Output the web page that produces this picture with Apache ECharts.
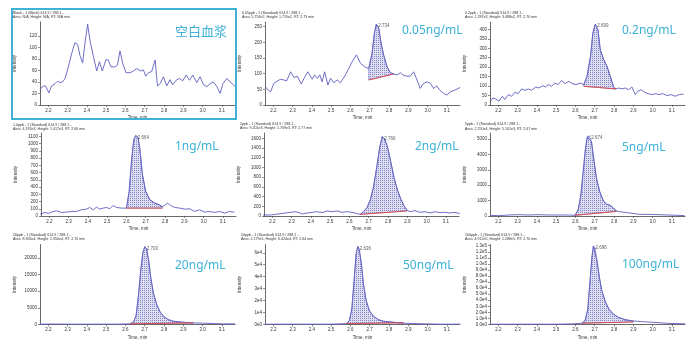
<!DOCTYPE html>
<html>
<head>
<meta charset="utf-8">
<script src="https://cdn.jsdelivr.net/npm/echarts@6/dist/echarts.min.js"></script>
<style>
  html, body { margin: 0; padding: 0; background: #fff; }
  #chart { width: 691px; height: 341px; }
</style>
</head>
<body>
<div id="chart"></div>
<script>
// chromatogram traces, [time (min), intensity]
const blank = [[2.157,27],[2.174,33],[2.186,33],[2.203,21],[2.217,33],[2.235,37],[2.247,41],[2.261,39],[2.274,40],[2.287,46],[2.304,66],[2.321,89],[2.338,108],[2.352,105],[2.364,86],[2.378,73],[2.390,107],[2.404,140],[2.416,112],[2.434,84],[2.451,59],[2.465,75],[2.480,59],[2.499,79],[2.511,78],[2.525,66],[2.546,66],[2.558,69],[2.572,94],[2.586,72],[2.603,56],[2.624,56],[2.641,59],[2.658,63],[2.679,59],[2.693,61],[2.705,50],[2.719,56],[2.736,58],[2.754,78],[2.766,33],[2.780,37],[2.797,49],[2.814,33],[2.831,44],[2.845,35],[2.863,43],[2.880,46],[2.897,42],[2.915,52],[2.932,43],[2.949,52],[2.970,39],[2.987,49],[3.005,35],[3.022,32],[3.039,37],[3.056,40],[3.074,32],[3.091,20],[3.105,37],[3.126,46],[3.143,40],[3.169,32]];
const s005 = [[2.160,58],[2.172,48],[2.186,42],[2.203,69],[2.221,77],[2.238,82],[2.255,80],[2.269,77],[2.290,106],[2.307,88],[2.324,92],[2.345,67],[2.362,88],[2.379,106],[2.402,82],[2.414,96],[2.428,85],[2.441,96],[2.453,74],[2.466,106],[2.483,64],[2.497,85],[2.514,71],[2.531,80],[2.548,71],[2.574,96],[2.609,138],[2.631,160],[2.652,133],[2.678,120],[2.695,117],[2.712,165],[2.724,229],[2.734,258],[2.747,245],[2.759,197],[2.772,160],[2.790,122],[2.807,103],[2.824,99],[2.841,96],[2.859,103],[2.872,96],[2.893,92],[2.910,92],[2.928,106],[2.945,80],[2.962,53],[2.979,69],[2.997,74],[3.014,69],[3.031,53],[3.048,61],[3.062,48],[3.083,37],[3.100,32],[3.117,42],[3.143,48],[3.169,56]];
const s02 = [[2.160,20],[2.172,38],[2.186,32],[2.203,20],[2.221,46],[2.234,29],[2.252,55],[2.269,46],[2.286,67],[2.303,60],[2.321,85],[2.338,78],[2.355,85],[2.372,78],[2.393,95],[2.410,90],[2.431,102],[2.445,95],[2.459,108],[2.476,99],[2.493,116],[2.510,108],[2.528,130],[2.545,113],[2.566,125],[2.583,113],[2.603,108],[2.626,116],[2.643,108],[2.660,151],[2.678,256],[2.690,379],[2.703,428],[2.717,396],[2.729,291],[2.747,239],[2.764,204],[2.781,151],[2.798,95],[2.810,85],[2.824,90],[2.841,85],[2.859,90],[2.876,81],[2.893,95],[2.910,55],[2.924,73],[2.941,81],[2.959,67],[2.976,60],[2.997,55],[3.014,60],[3.034,55],[3.052,60],[3.074,50],[3.097,55],[3.117,46],[3.138,55],[3.160,58]];
const s1 = [[2.152,26],[2.178,49],[2.195,35],[2.212,54],[2.238,72],[2.264,49],[2.290,54],[2.316,63],[2.341,63],[2.367,86],[2.393,95],[2.410,118],[2.428,86],[2.445,123],[2.462,95],[2.479,109],[2.497,118],[2.514,100],[2.531,146],[2.548,118],[2.574,109],[2.600,109],[2.614,340],[2.626,754],[2.638,1054],[2.648,1114],[2.660,1086],[2.669,939],[2.683,570],[2.700,340],[2.721,224],[2.747,178],[2.769,155],[2.786,132],[2.798,146],[2.812,178],[2.828,146],[2.850,118],[2.876,109],[2.902,95],[2.928,100],[2.953,63],[2.979,86],[3.005,54],[3.031,63],[3.057,49],[3.083,63],[3.109,40],[3.134,63],[3.160,54]];
const s2 = [[2.150,21],[2.191,21],[2.217,34],[2.243,48],[2.269,62],[2.295,76],[2.320,89],[2.338,69],[2.355,41],[2.381,62],[2.407,76],[2.432,89],[2.458,69],[2.484,103],[2.510,89],[2.536,103],[2.561,76],[2.587,89],[2.613,76],[2.635,55],[2.656,34],[2.673,89],[2.691,172],[2.708,330],[2.725,604],[2.742,1016],[2.756,1394],[2.770,1635],[2.782,1587],[2.797,1429],[2.814,1120],[2.832,776],[2.849,536],[2.866,350],[2.883,213],[2.897,124],[2.914,89],[2.940,110],[2.966,76],[2.992,89],[3.018,62],[3.043,89],[3.069,69],[3.095,76],[3.121,62],[3.147,76],[3.172,48]];
const s5 = [[2.157,43],[2.200,22],[2.252,65],[2.303,87],[2.355,65],[2.407,87],[2.459,65],[2.510,65],[2.562,65],[2.597,43],[2.614,390],[2.628,1364],[2.640,2879],[2.652,4394],[2.662,5152],[2.672,5216],[2.683,4827],[2.697,3528],[2.709,2446],[2.726,1580],[2.743,1039],[2.760,758],[2.778,714],[2.795,541],[2.812,325],[2.829,281],[2.855,238],[2.881,195],[2.907,152],[2.933,108],[2.976,108],[3.028,87],[3.079,65],[3.131,43],[3.166,22]];
const s20 = [[2.157,100],[2.226,150],[2.295,100],[2.382,100],[2.468,100],[2.555,100],[2.624,200],[2.641,680],[2.655,2600],[2.667,8400],[2.679,16100],[2.690,21450],[2.700,23400],[2.710,22700],[2.721,19000],[2.731,14200],[2.745,9400],[2.762,6000],[2.780,3770],[2.800,2320],[2.823,1450],[2.849,970],[2.883,770],[2.918,580],[2.953,480],[3.005,390],[3.056,290],[3.108,190],[3.169,190]];
const s50 = [[2.157,200],[2.235,300],[2.321,300],[2.408,300],[2.494,300],[2.546,500],[2.581,800],[2.595,3500],[2.607,12900],[2.619,37100],[2.629,58600],[2.638,65300],[2.646,62600],[2.657,50500],[2.667,34400],[2.681,20400],[2.698,11600],[2.719,7000],[2.745,4000],[2.771,2700],[2.806,2150],[2.840,1600],[2.875,1100],[2.927,800],[2.996,500],[3.065,300],[3.169,300]];
const s100 = [[2.157,300],[2.235,500],[2.321,500],[2.408,500],[2.494,500],[2.581,1000],[2.633,2100],[2.650,6400],[2.664,25000],[2.676,72700],[2.685,109800],[2.693,129400],[2.702,126800],[2.712,104500],[2.724,78000],[2.736,56800],[2.754,38200],[2.774,25000],[2.797,17000],[2.823,11700],[2.857,8000],[2.901,5800],[2.944,4800],[2.996,3700],[3.048,2650],[3.100,1600],[3.169,1100]];

// integration baselines (start, end)
const base005 = [[2.695,80],[2.824,99]];
const base02 = [[2.643,99],[2.810,85]];
const base1 = [[2.600,109],[2.786,109]];
const base2 = [[2.656,34],[2.897,103]];
const base5 = [[2.597,43],[2.812,300]];
const base20 = [[2.624,200],[2.953,480]];
const base50 = [[2.581,800],[2.875,1400]];
const base100 = [[2.633,2100],[2.901,4200]];

const traces = [blank, s005, s02, s1, s2, s5, s20, s50, s100];
const baselines = [null, base005, base02, base1, base2, base5, base20, base50, base100];
const apexLabels = ['', '2.734', '2.699', '2.664', '2.766', '2.674', '2.703', '2.636', '2.696'];
const concLabels = ['空白血浆', '0.05ng/mL', '0.2ng/mL', '1ng/mL', '2ng/mL', '5ng/mL', '20ng/mL', '50ng/mL', '100ng/mL'];
const titles1 = ['Blank - 1 (Blank) 614.9 / 288.1 -', '0.05ppb - 1 (Standard) 614.9 / 288.1 -', '0.2ppb - 1 (Standard) 614.9 / 288.1 -',
  '1.0ppb - 1 (Standard) 614.9 / 288.1 -', '2ppb - 1 (Standard) 614.9 / 288.1 -', '5ppb - 1 (Standard) 614.9 / 288.1 -',
  '20ppb - 1 (Standard) 614.9 / 288.1 -', '50ppb - 1 (Standard) 614.9 / 288.1 -', '100ppb - 1 (Standard) 614.9 / 288.1 -'];
const titles2 = ['Area: N/A, Height: N/A, RT: N/A min', 'Area: 5.756e2, Height: 1.719e2, RT: 2.73 min', 'Area: 1.287e3, Height: 3.488e2, RT: 2.70 min',
  'Area: 4.376e3, Height: 1.017e3, RT: 2.66 min', 'Area: 9.201e3, Height: 1.709e3, RT: 2.77 min', 'Area: 2.250e4, Height: 5.101e3, RT: 2.67 min',
  'Area: 8.356e4, Height: 2.350e4, RT: 2.70 min', 'Area: 2.179e5, Height: 6.424e4, RT: 2.64 min', 'Area: 4.912e5, Height: 1.288e5, RT: 2.70 min'];
const timeTicks = [2.2, 2.3, 2.4, 2.5, 2.6, 2.7, 2.8, 2.9, 3.0, 3.1];
const yTicks = [
  [0, 20, 40, 60, 80, 100, 120],
  [0, 50, 100, 150, 200, 250],
  [0, 50, 100, 150, 200, 250, 300, 350, 400],
  [0, 100, 200, 300, 400, 500, 600, 700, 800, 900, 1000, 1100],
  [0, 200, 400, 600, 800, 1000, 1200, 1400, 1600],
  [0, 1000, 2000, 3000, 4000, 5000],
  [0, 5000, 10000, 15000, 20000],
  [0, 10000, 20000, 30000, 40000, 50000, 60000],
  [0, 10000, 20000, 30000, 40000, 50000, 60000, 70000, 80000, 90000, 100000, 110000, 120000, 130000]
];
const yMax = [144, 265, 439, 1148, 1709, 5390, 24050, 66900, 132000];

// layout
const lefts = [40, 265, 490, 41, 264, 490, 40, 265, 490];
const tops = [22, 22, 22, 133, 133, 133, 244.5, 244.5, 244.5];
const titlePos = [[13, 12.7], [242, 12.7], [465, 12.7], [13, 125], [240, 124], [465, 124.3], [13, 235], [241, 235], [465, 235]];
const concPos = [[175, 31], [402, 31], [622, 31], [175, 147], [415, 147], [622, 148], [175, 266], [403, 266], [622, 265]];

const yFmt = [
  null, null, null, null, null, null, null,
  v => v === 0 ? '0e0' : (v / 1e4) + 'e4',
  v => v === 0 ? '0.0e0' : (v < 1e5 ? (v / 1e4).toFixed(1) + 'e4' : (v / 1e5).toFixed(1) + 'e5')
];

// dotted fill for integrated peaks
const pc = document.createElement('canvas');
pc.width = 2; pc.height = 2;
const pctx = pc.getContext('2d');
pctx.fillStyle = '#dedef3';
pctx.fillRect(0, 0, 2, 2);
pctx.fillStyle = '#8585c8';
pctx.fillRect(0, 0, 1, 1);
const hatch = { image: pc, repeat: 'repeat' };

const lineColor = '#5d5dc2';
const grids = [], xAxes = [], yAxes = [], series = [], graphics = [];
const tiny = { fontSize: 4.5, color: '#333', fontFamily: 'Liberation Sans' };

traces.forEach((tr, i) => {
  grids.push({ left: lefts[i], top: tops[i], width: 195, height: 83 });
  xAxes.push({
    type: 'value', gridIndex: i, min: 2.157, max: 3.168,
    name: 'Time, min', nameLocation: 'middle', nameGap: 10.5,
    nameTextStyle: tiny,
    axisLine: { lineStyle: { color: '#444', width: 0.8 } },
    axisTick: { length: 2, customValues: timeTicks, lineStyle: { color: '#444', width: 0.6 } },
    axisLabel: Object.assign({ margin: 3, customValues: timeTicks, formatter: v => v.toFixed(1) }, tiny),
    splitLine: { show: false }
  });
  const lab = Object.assign({ margin: 3, customValues: yTicks[i], formatter: v => String(v) }, tiny);
  if (yFmt[i]) lab.formatter = yFmt[i];
  yAxes.push({
    type: 'value', gridIndex: i, min: 0, max: yMax[i],
    name: 'Intensity', nameLocation: 'middle', nameRotate: 90, nameGap: 23,
    nameTextStyle: tiny,
    axisLine: { show: true, lineStyle: { color: '#444', width: 0.8 } },
    axisTick: { show: true, length: 2, customValues: yTicks[i], lineStyle: { color: '#444', width: 0.6 } },
    axisLabel: lab,
    splitLine: { show: false }
  });

  const b = baselines[i];
  if (b) {
    series.push({
      type: 'custom', xAxisIndex: i, yAxisIndex: i, z: 2, silent: true,
      data: [b[0]],
      renderItem: (params, api) => {
        const pts = [api.coord(b[0])];
        tr.forEach(p => { if (p[0] >= b[0][0] && p[0] <= b[1][0]) pts.push(api.coord(p)); });
        pts.push(api.coord(b[1]));
        return { type: 'polygon', shape: { points: pts }, style: { fill: hatch, stroke: '#4a4aa8', lineWidth: 0.5 } };
      }
    });
    series.push({
      type: 'line', xAxisIndex: i, yAxisIndex: i, z: 4, data: b, symbol: 'none', silent: true,
      lineStyle: { color: '#e0453f', width: 0.9 }
    });
  }
  series.push({
    type: 'line', xAxisIndex: i, yAxisIndex: i, z: 3, data: tr, symbol: 'none', silent: true,
    lineStyle: { color: lineColor, width: 0.9 }
  });
  if (apexLabels[i]) {
    let apex = tr[0];
    tr.forEach(p => { if (p[1] > apex[1]) apex = p; });
    series.push({
      type: 'scatter', xAxisIndex: i, yAxisIndex: i, z: 5, symbolSize: 0, silent: true,
      data: [apex],
      label: { show: true, position: 'right', distance: 2, offset: [0, 2], formatter: apexLabels[i], fontSize: 4.5, color: '#333', fontFamily: 'Liberation Sans' }
    });
  }

  graphics.push({
    type: 'text', left: titlePos[i][0], top: titlePos[i][1] - 2,
    style: { text: titles1[i] + '\n' + titles2[i], fontSize: 3.6, lineHeight: 4.2, fill: '#333', fontFamily: 'Liberation Sans' }
  });
  graphics.push({
    type: 'text', x: concPos[i][0], y: concPos[i][1],
    style: { text: concLabels[i], fontSize: i === 0 ? 13 : 12, fill: '#3db1d8', verticalAlign: 'middle',
      fontFamily: i === 0 ? 'Noto Sans CJK SC' : 'Noto Sans' }
  });
});

graphics.push({
  type: 'rect', shape: { x: 12, y: 9, width: 224, height: 110 },
  style: { fill: 'none', stroke: '#3cb3d6', lineWidth: 2 }, z: 10
});

const chart = echarts.init(document.getElementById('chart'), null, { renderer: 'canvas' });
chart.setOption({
  animation: false,
  backgroundColor: '#fff',
  grid: grids,
  xAxis: xAxes,
  yAxis: yAxes,
  series: series,
  graphic: graphics
});
</script>
</body>
</html>
